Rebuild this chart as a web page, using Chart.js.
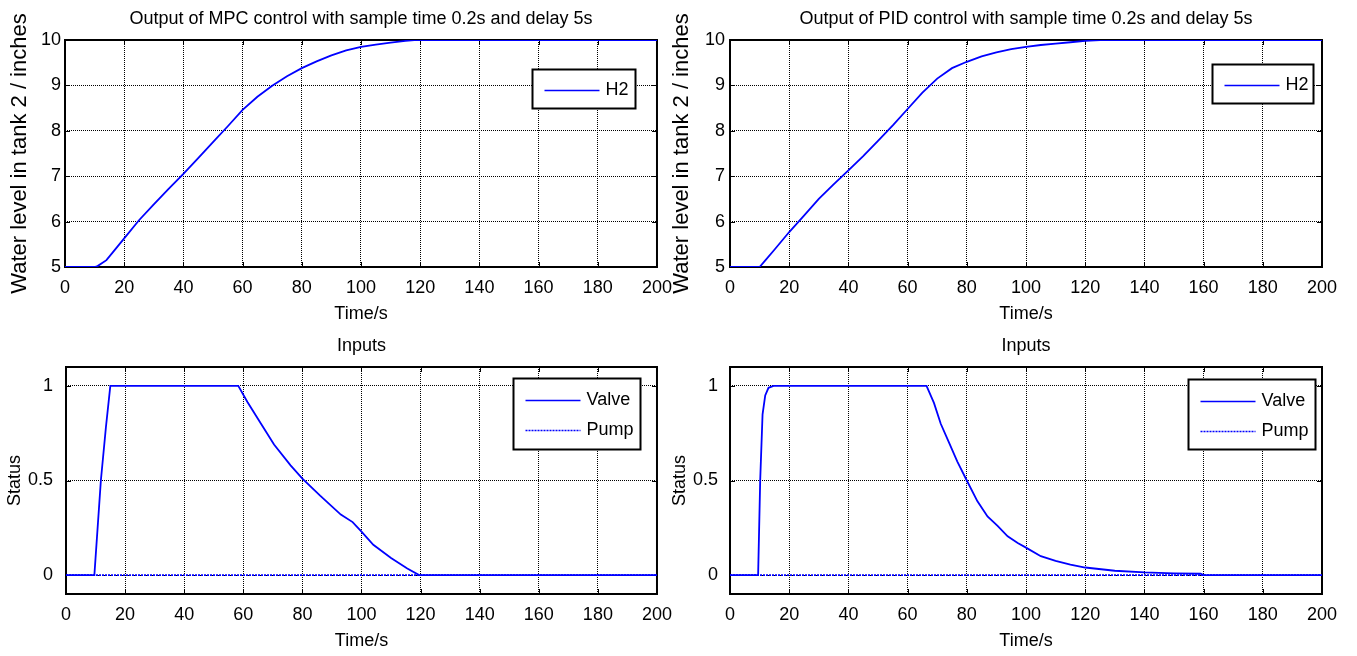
<!DOCTYPE html>
<html>
<head>
<meta charset="utf-8">
<script src="https://cdn.jsdelivr.net/npm/chart.js@4.4.1/dist/chart.umd.min.js"></script>
<style>
  html, body { margin: 0; padding: 0; background: #fff; }
  .panel { position: absolute; }
</style>
</head>
<body>
<div class="panel" style="left:0;top:0;width:682px;height:328px"><canvas id="mpcLevelChart"></canvas></div>
<div class="panel" style="left:660px;top:0;width:697px;height:328px"><canvas id="pidLevelChart"></canvas></div>
<div class="panel" style="left:0;top:328px;width:682px;height:328px"><canvas id="mpcInputChart"></canvas></div>
<div class="panel" style="left:660px;top:328px;width:697px;height:328px"><canvas id="pidInputChart"></canvas></div>
<script>
// MPC / PID 수위 제어 결과 — 그림에서 읽어낸 값
const timeTicks = [0, 20, 40, 60, 80, 100, 120, 140, 160, 180, 200];
const levelTicks = [5, 6, 7, 8, 9, 10];
const statusTicks = [0, 0.5, 1];

const mpcLevelTime = [0, 10, 11, 14, 16, 18, 20, 25, 30, 35, 40, 45, 50, 55, 60, 65, 70, 75, 80, 85, 90, 95, 100, 105, 110, 115, 118, 200];
const mpcLevel = [5, 5, 5.02, 5.15, 5.31, 5.47, 5.63, 6.03, 6.38, 6.72, 7.05, 7.4, 7.75, 8.1, 8.46, 8.75, 8.99, 9.2, 9.38, 9.53, 9.66, 9.77, 9.85, 9.9, 9.94, 9.98, 10, 10];

const pidLevelTime = [0, 10, 12, 15, 20, 25, 30, 35, 40, 45, 50, 55, 60, 65, 70, 75, 80, 85, 90, 95, 100, 105, 110, 115, 120, 125, 200];
const pidLevel = [5, 5, 5.15, 5.38, 5.77, 6.13, 6.5, 6.82, 7.13, 7.44, 7.78, 8.12, 8.48, 8.84, 9.15, 9.38, 9.52, 9.64, 9.73, 9.8, 9.85, 9.89, 9.92, 9.95, 9.98, 10, 10];

const mpcValveTime = [0, 9.6, 11.8, 13.5, 15, 58.3, 61.4, 66, 70.4, 76, 80, 86, 93, 97, 100, 104, 110, 115.5, 119.5, 200];
const mpcValve = [0, 0, 0.5, 0.78, 1, 1, 0.915, 0.8, 0.69, 0.58, 0.51, 0.42, 0.32, 0.28, 0.23, 0.16, 0.09, 0.035, 0, 0];

const pidValveTime = [0, 9.5, 10.2, 11, 11.9, 13, 14.7, 66.4, 68.9, 71.2, 74, 76.8, 80, 83.6, 87, 90.4, 93.8, 97.2, 100, 105, 110, 115, 120, 130, 140, 150, 159, 160, 200];
const pidValve = [0, 0, 0.5, 0.85, 0.95, 0.99, 1, 1, 0.91, 0.8, 0.7, 0.6, 0.5, 0.39, 0.31, 0.26, 0.205, 0.17, 0.145, 0.1, 0.075, 0.055, 0.04, 0.023, 0.014, 0.009, 0.007, 0, 0];

const pumpTime = [0, 200];
const pump = [0, 0];

const BLUE = "#0000ff";
const FONT = "'Liberation Sans', Arial, Helvetica, sans-serif";
Chart.defaults.font.family = FONT;
Chart.defaults.color = "#000";

function pts(xs, ys) {
  return xs.map((x, i) => ({ x: x, y: ys[i] }));
}

// MATLAB 식 상자와 안쪽 눈금
const boxPlugin = {
  id: "matlabBox",
  beforeDatasetsDraw(chart) {
    const a = chart.chartArea, ctx = chart.ctx;
    const xs = chart.scales.x, ys = chart.scales.y;
    ctx.save();
    ctx.strokeStyle = "#000";
    ctx.lineWidth = 1;
    ctx.beginPath();
    xs.ticks.forEach((t) => {
      const p = Math.round(xs.getPixelForValue(t.value)) + 0.5;
      ctx.moveTo(p, a.bottom); ctx.lineTo(p, a.bottom - 5);
      ctx.moveTo(p, a.top); ctx.lineTo(p, a.top + 5);
    });
    ys.ticks.forEach((t) => {
      const p = Math.round(ys.getPixelForValue(t.value)) + 0.5;
      ctx.moveTo(a.left, p); ctx.lineTo(a.left + 5, p);
      ctx.moveTo(a.right, p); ctx.lineTo(a.right - 5, p);
    });
    ctx.stroke();
    ctx.lineWidth = 2;
    ctx.strokeRect(a.left, a.top, a.right - a.left, a.bottom - a.top);
    ctx.restore();
  },
};

// 그래프 안쪽 오른쪽 위의 범례 상자
const legendPlugin = {
  id: "boxLegend",
  afterDatasetsDraw(chart, args, o) {
    if (!o || !o.width) return;
    const a = chart.chartArea, ctx = chart.ctx;
    const left = Math.round(a.right - o.right - o.width) + 0.5;
    const top = Math.round(a.top + o.top) + 0.5;
    const sets = chart.data.datasets;
    ctx.save();
    ctx.fillStyle = "#fff";
    ctx.fillRect(left, top, o.width, o.height);
    ctx.strokeStyle = "#000";
    ctx.lineWidth = 2;
    ctx.strokeRect(left, top, o.width, o.height);
    const y0 = top + (o.height - (sets.length - 1) * 30) / 2 + 1;
    sets.forEach((d, i) => {
      const y = Math.round(y0 + i * 30) + 0.5;
      ctx.strokeStyle = d.borderColor;
      ctx.lineWidth = 1.5;
      ctx.setLineDash(d.borderDash || []);
      ctx.beginPath();
      ctx.moveTo(left + 12, y);
      ctx.lineTo(left + 67, y);
      ctx.stroke();
      ctx.setLineDash([]);
      ctx.fillStyle = "#000";
      ctx.font = "18px " + FONT;
      ctx.textAlign = "left";
      ctx.textBaseline = "middle";
      ctx.fillText(d.label, left + 73, y);
    });
    ctx.restore();
  },
};

function makeChart(canvasId, series, opts) {
  const ctx = document.getElementById(canvasId);
  if (!ctx) return;
  new Chart(ctx, {
    type: "line",
    data: {
      datasets: series.map((s) => ({
        label: s.label,
        data: s.data,
        borderColor: BLUE,
        borderWidth: 1.8,
        borderDash: s.dash || [],
        pointRadius: 0,
        tension: 0,
        fill: false,
      })),
    },
    options: {
      responsive: true,
      maintainAspectRatio: false,
      animation: false,
      events: [],
      layout: { padding: { left: 0, right: opts.padRight, top: 0, bottom: 0 } },
      plugins: {
        legend: { display: false },
        tooltip: { enabled: false },
        title: {
          display: true,
          text: opts.title,
          fullSize: false,
          font: { size: 18, weight: "normal" },
          padding: { top: opts.titleTop, bottom: opts.titleBottom },
        },
        boxLegend: opts.legend,
      },
      scales: {
        x: {
          type: "linear",
          min: 0,
          max: 200,
          afterBuildTicks: (s) => { s.ticks = timeTicks.map((v) => ({ value: v })); },
          afterFit: (s) => { s.height = opts.xHeight; },
          ticks: { autoSkip: false, maxRotation: 0, padding: 10, font: { size: 18 }, callback: (v) => String(v) },
          grid: { color: "#000", lineWidth: 1, drawTicks: false },
          border: { display: false, dash: [1, 1] },
          title: { display: true, text: "Time/s", font: { size: 18 }, padding: { top: 0, bottom: opts.xTitleBottom } },
        },
        y: {
          type: "linear",
          min: opts.yMin,
          max: opts.yMax,
          afterBuildTicks: (s) => { s.ticks = opts.yTicks.map((v) => ({ value: v })); },
          afterFit: (s) => { s.width = opts.yWidth; },
          ticks: { padding: opts.yTickPad, font: { size: 18 }, callback: (v) => String(v) },
          grid: { color: "#000", lineWidth: 1, drawTicks: false },
          border: { display: false, dash: [1, 1] },
          title: { display: true, text: opts.yTitle, font: { size: opts.yTitleSize }, padding: { top: opts.yTitlePad, bottom: 0 } },
        },
      },
    },
    plugins: [boxPlugin, legendPlugin],
  });
}

document.addEventListener("DOMContentLoaded", function () {
  makeChart("mpcLevelChart", [{ label: "H2", data: pts(mpcLevelTime, mpcLevel) }], {
    title: "Output of MPC control with sample time 0.2s and delay 5s",
    titleTop: 8, titleBottom: 10.4, padRight: 25, xHeight: 61, xTitleBottom: 3,
    yTitle: "Water level in tank 2 / inches", yTitleSize: 22, yTitlePad: 7,
    yWidth: 65, yTickPad: 4, yMin: 5, yMax: 10, yTicks: levelTicks,
    legend: { right: 22, top: 29, width: 103, height: 39 },
  });
  makeChart("pidLevelChart", [{ label: "H2", data: pts(pidLevelTime, pidLevel) }], {
    title: "Output of PID control with sample time 0.2s and delay 5s",
    titleTop: 8, titleBottom: 10.4, padRight: 35, xHeight: 61, xTitleBottom: 3,
    yTitle: "Water level in tank 2 / inches", yTitleSize: 22, yTitlePad: 9,
    yWidth: 70, yTickPad: 5, yMin: 5, yMax: 10, yTicks: levelTicks,
    legend: { right: 9, top: 24, width: 101, height: 39 },
  });
  makeChart("mpcInputChart", [
    { label: "Valve", data: pts(mpcValveTime, mpcValve) },
    { label: "Pump", data: pts(pumpTime, pump), dash: [2, 1] },
  ], {
    title: "Inputs",
    titleTop: 7, titleBottom: 10.4, padRight: 25, xHeight: 62, xTitleBottom: 4,
    yTitle: "Status", yTitleSize: 18, yTitlePad: 4,
    yWidth: 66, yTickPad: 13, yMin: -0.1, yMax: 1.1, yTicks: statusTicks,
    legend: { right: 17, top: 11, width: 127, height: 71 },
  });
  makeChart("pidInputChart", [
    { label: "Valve", data: pts(pidValveTime, pidValve) },
    { label: "Pump", data: pts(pumpTime, pump), dash: [2, 1] },
  ], {
    title: "Inputs",
    titleTop: 7, titleBottom: 10.4, padRight: 35, xHeight: 62, xTitleBottom: 4,
    yTitle: "Status", yTitleSize: 18, yTitlePad: 9,
    yWidth: 70, yTickPad: 12, yMin: -0.1, yMax: 1.1, yTicks: statusTicks,
    legend: { right: 7, top: 12, width: 127, height: 70 },
  });
});
</script>
</body>
</html>
